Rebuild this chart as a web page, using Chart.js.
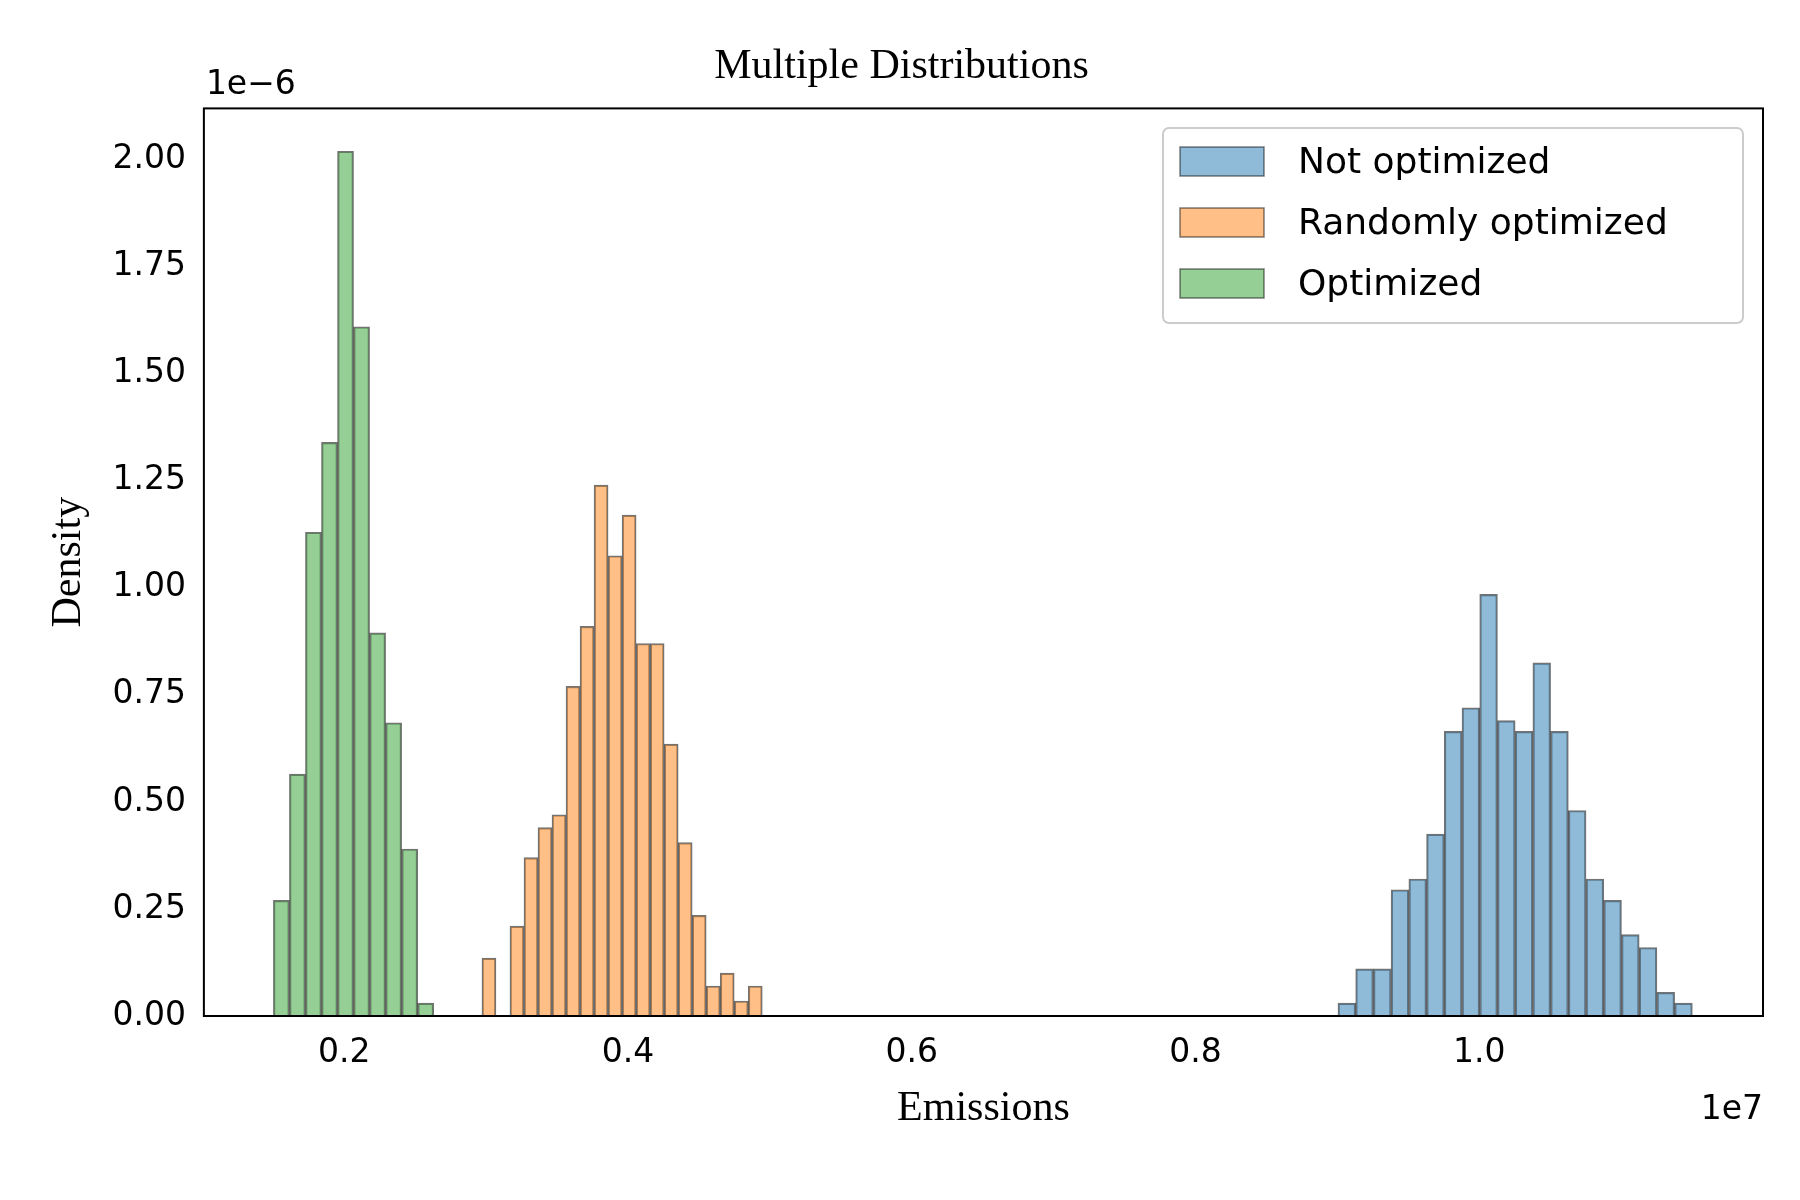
<!DOCTYPE html>
<html>
<head>
<meta charset="utf-8">
<script src="https://cdn.jsdelivr.net/npm/chart.js@4/dist/chart.umd.min.js"></script>
<style>
  body { margin: 0; background: #fff; }
  #wrap { width: 1800px; height: 1200px; }
</style>
</head>
<body>
<div id="wrap"><canvas id="hist"></canvas></div>
<script>
// bin edges in units of 1e7, densities in units of 1e-6
const seriesNames = ['Not optimized', 'Randomly optimized', 'Optimized'];
const blueStart = 0.9004, blueWidth = 0.01249;
const blueDensity = [0.03, 0.11, 0.11, 0.295, 0.32, 0.425, 0.665, 0.72, 0.985, 0.69,
                     0.665, 0.825, 0.665, 0.48, 0.32, 0.27, 0.19, 0.16, 0.055, 0.03];
const orangeStart = 0.297, orangeWidth = 0.00988;
const orangeDensity = [0.135, 0, 0.21, 0.37, 0.44, 0.47, 0.77, 0.91, 1.24, 1.075,
                       1.17, 0.87, 0.87, 0.635, 0.405, 0.235, 0.07, 0.10, 0.035, 0.07];
const greenStart = 0.150, greenWidth = 0.0113;
const greenDensity = [0.27, 0.565, 1.13, 1.34, 2.02, 1.61, 0.895, 0.685, 0.39, 0.03];
const xTicks = [0.2, 0.4, 0.6, 0.8, 1.0];
const yTicks = [0, 0.25, 0.5, 0.75, 1.0, 1.25, 1.5, 1.75, 2.0];

const fills = ['rgba(31,119,180,0.5)', 'rgba(255,127,14,0.5)', 'rgba(44,160,44,0.5)'];
const sans = "'DejaVu Sans', sans-serif";
const serif = "'Liberation Serif', 'Times New Roman', serif";

function toPoints(start, width, dens) {
    return dens.map((d, i) => ({ x: start + width * (i + 0.5), y: d }));
}
const bins = [
    [blueStart, blueWidth, blueDensity],
    [orangeStart, orangeWidth, orangeDensity],
    [greenStart, greenWidth, greenDensity]
];

const frameAndLegend = {
    id: 'frameAndLegend',
    afterDraw(chart) {
        const { ctx, chartArea: a } = chart;
        ctx.save();
        ctx.strokeStyle = '#000';
        ctx.lineWidth = 2;
        ctx.strokeRect(a.left, a.top, a.right - a.left, a.bottom - a.top);
        // offset texts
        ctx.fillStyle = '#000';
        ctx.font = '33px ' + sans;
        ctx.textAlign = 'left';
        ctx.textBaseline = 'bottom';
        ctx.fillText('1e\u22126', a.left + 2, a.top - 6);
        ctx.textAlign = 'right';
        ctx.textBaseline = 'top';
        ctx.fillText('1e7', a.right, a.bottom + 78);
        // legend
        const lx = 1163, ly = 128, lw = 580, lh = 195;
        ctx.fillStyle = 'rgba(255,255,255,0.8)';
        ctx.strokeStyle = '#ccc';
        ctx.lineWidth = 2;
        ctx.beginPath();
        ctx.roundRect(lx, ly, lw, lh, 6);
        ctx.fill();
        ctx.stroke();
        ctx.font = '36px ' + sans;
        ctx.textAlign = 'left';
        ctx.textBaseline = 'middle';
        seriesNames.forEach((name, i) => {
            const y = ly + 34 + i * 61;
            ctx.fillStyle = fills[i];
            ctx.fillRect(lx + 17, y - 15, 84, 29);
            ctx.strokeStyle = 'rgba(0,0,0,0.5)';
            ctx.lineWidth = 1.5;
            ctx.strokeRect(lx + 17, y - 15, 84, 29);
            ctx.fillStyle = '#000';
            ctx.fillText(name, lx + 135, y + 2);
        });
        ctx.restore();
    }
};

const chart = new Chart(document.getElementById('hist').getContext('2d'), {
    type: 'bar',
    data: {
        datasets: bins.map((b, i) => ({
            label: seriesNames[i],
            data: toPoints(b[0], b[1], b[2]),
            backgroundColor: fills[i],
            borderColor: 'rgba(0,0,0,0.55)',
            borderWidth: 1.5,
            borderSkipped: 'bottom',
            grouped: false,
            barPercentage: 1,
            categoryPercentage: 1
        }))
    },
    options: {
        responsive: true,
        maintainAspectRatio: false,
        animation: false,
        layout: { padding: { left: 40, right: 37, top: 30, bottom: 62 } },
        plugins: {
            legend: { display: false },
            tooltip: { enabled: false },
            title: {
                display: true,
                text: 'Multiple Distributions',
                color: '#000',
                font: { family: serif, size: 42, weight: 'normal' },
                padding: { top: 12, bottom: 16 }
            }
        },
        scales: {
            x: {
                type: 'linear',
                offset: false,
                min: 0.101,
                max: 1.2,
                afterBuildTicks: s => { s.ticks = xTicks.map(v => ({ value: v })); },
                grid: { display: false, offset: false, tickLength: 8, tickColor: '#000' },
                border: { display: false },
                ticks: { color: '#000', font: { family: sans, size: 33 }, padding: 10,
                         callback: v => v.toFixed(1) },
                title: { display: true, text: 'Emissions', color: '#000',
                         font: { family: serif, size: 42 }, padding: { top: 0 } }
            },
            y: {
                min: 0,
                max: 2.12,
                afterBuildTicks: s => { s.ticks = yTicks.map(v => ({ value: v })); },
                grid: { display: false, tickLength: 8, tickColor: '#000' },
                border: { display: false },
                ticks: { color: '#000', font: { family: sans, size: 33 }, padding: 10,
                         callback: v => v.toFixed(2) },
                title: { display: true, text: 'Density', color: '#000',
                         font: { family: serif, size: 42 }, padding: { bottom: 8 } }
            }
        }
    },
    plugins: [frameAndLegend]
});

// histogram bars: width equals the bin width on the x scale
const xs = chart.scales.x;
const pxPerUnit = (xs.right - xs.left) / (xs.max - xs.min);
chart.data.datasets.forEach((ds, i) => { ds.barThickness = bins[i][1] * pxPerUnit; });
chart.update('none');
</script>
</body>
</html>
